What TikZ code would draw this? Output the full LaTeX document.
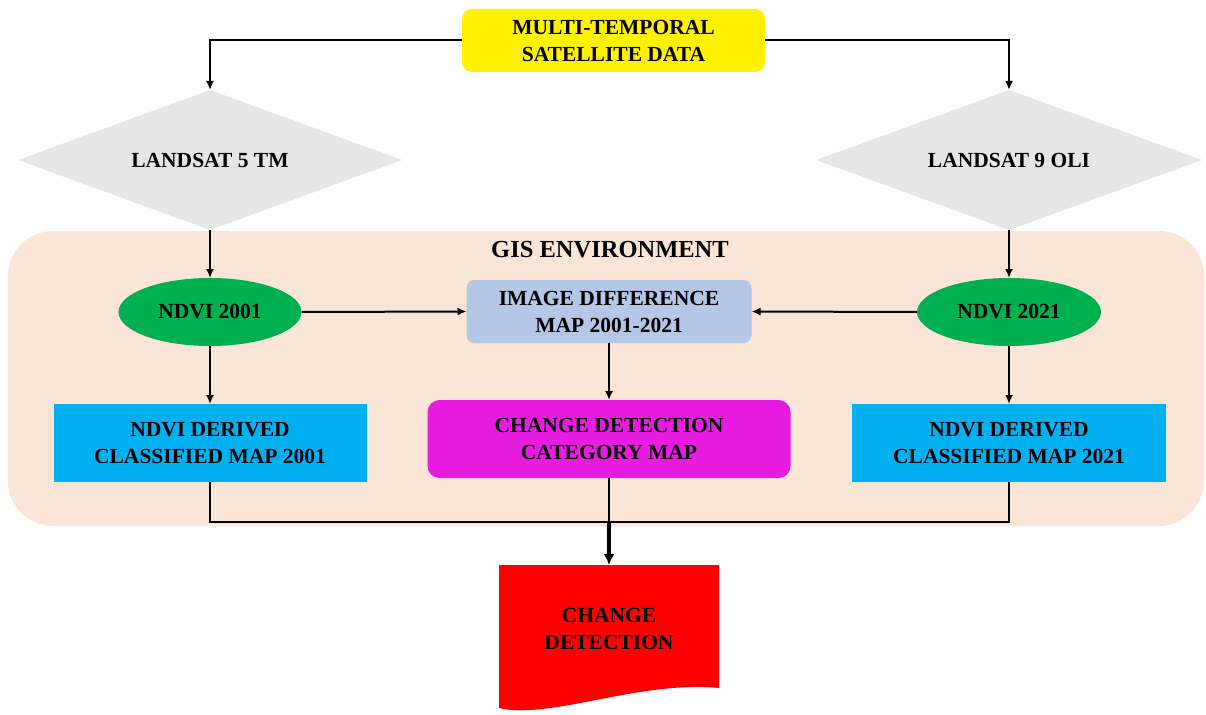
\documentclass[tikz,border=0pt]{standalone}
\usepackage{fontspec}
\setmainfont{Liberation Serif}
\usetikzlibrary{shapes.geometric,arrows.meta}
\definecolor{gisbg}{HTML}{FBE5D6}
\definecolor{diagray}{HTML}{E6E6E6}
\definecolor{ndvigreen}{HTML}{00B050}
\definecolor{diffblue}{HTML}{B4C7E7}
\definecolor{cdmagenta}{HTML}{E81CE0}
\definecolor{classcyan}{HTML}{00B0F0}
\tikzset{
  box/.style={align=center, font=\fontsize{21.5}{27}\selectfont\bfseries, inner sep=0pt, outer sep=0pt},
  flow/.style={-{Latex[length=9pt,width=8pt]}, line width=2pt},
  joinline/.style={line width=2pt},
}

\begin{document}
\begin{tikzpicture}[x=1pt,y=-1pt]
  \useasboundingbox (0,0) rectangle (1206,714);

  %gis environment
  \node[box, fill=gisbg, rounded corners=45pt, minimum width=1196pt, minimum height=295pt] (gis) at (606,378.5) {};
  \node[box, font=\fontsize{24.5}{28}\selectfont\bfseries] (gistitle) at (610,250) {GIS ENVIRONMENT};

  %sources
  \node[box, fill=yellow, rounded corners=10pt, minimum width=303pt, minimum height=63pt] (top) at (613.5,40.5) {MULTI-TEMPORAL\\SATELLITE DATA};
  \node[box, diamond, aspect=2.74, fill=diagray, minimum width=384pt, minimum height=140pt] (landsatA) at (210,160) {LANDSAT 5 TM};
  \node[box, diamond, aspect=2.74, fill=diagray, minimum width=386pt, minimum height=140pt] (landsatB) at (1009,160) {LANDSAT 9 OLI};

  %ndvi
  \node[box, ellipse, fill=ndvigreen, minimum width=183pt, minimum height=68pt] (ndviA) at (210,312) {NDVI 2001};
  \node[box, ellipse, fill=ndvigreen, minimum width=184pt, minimum height=68pt] (ndviB) at (1009,312) {NDVI 2021};
  \node[box, fill=diffblue, rounded corners=8pt, minimum width=285pt, minimum height=63pt] (imgdiff) at (609,311.5) {IMAGE DIFFERENCE\\MAP 2001-2021};

  %maps
  \node[box, fill=classcyan, minimum width=313pt, minimum height=78pt] (classA) at (210,443) {NDVI DERIVED\\CLASSIFIED MAP 2001};
  \node[box, fill=classcyan, minimum width=314pt, minimum height=78pt] (classB) at (1009,443) {NDVI DERIVED\\CLASSIFIED MAP 2021};
  \node[box, fill=cdmagenta, rounded corners=12pt, minimum width=363pt, minimum height=78pt] (cdmap) at (609,439) {CHANGE DETECTION\\CATEGORY MAP};

  %output document
  \fill[red] (499,565) -- (719,565) -- (719,688) .. controls (640,680) and (550,720) .. (499,708) -- cycle;
  \node[box] (change) at (609,629) {CHANGE\\DETECTION};
  \coordinate (docTop) at (609,565);
  \coordinate (merge) at (609,522);

  %connectors
  \draw[flow] (top.west) -| (landsatA.north);
  \draw[flow] (top.east) -| (landsatB.north);
  \draw[flow] (landsatA.south) -- (ndviA.north);
  \draw[flow] (landsatB.south) -- (ndviB.north);
  \draw[flow] (ndviA.east) -- (imgdiff.west);
  \draw[flow] (ndviB.west) -- (imgdiff.east);
  \draw[flow] (ndviA.south) -- (classA.north);
  \draw[flow] (ndviB.south) -- (classB.north);
  \draw[flow] (imgdiff.south) -- (cdmap.north);
  \draw[joinline] (classA.south) |- (merge) -| (classB.south);
  \draw[joinline] (cdmap.south) -- (merge);
  \draw[-{Latex[length=11pt,width=11pt]}, line width=3.5pt] (merge) -- (docTop);
\end{tikzpicture}
\end{document}
